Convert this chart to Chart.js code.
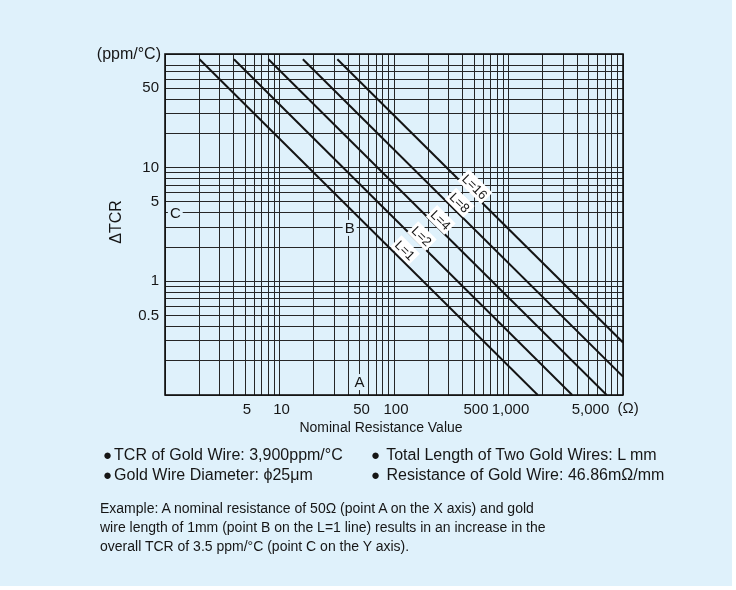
<!DOCTYPE html>
<html>
<head>
<meta charset="utf-8">
<script src="https://cdn.jsdelivr.net/npm/chart.js@4.4.1/dist/chart.umd.min.js"></script>
<style>
    html, body { margin: 0; padding: 0; background: #ffffff; }
    #panel { position: absolute; left: 0; top: 0; width: 732px; height: 586px; background: #dff1fb; }
    #chart { position: absolute; left: 0; top: 0; }
    .notes { position: absolute; font-family: "Liberation Sans", Arial, sans-serif; font-size: 14px; color: #161616; line-height: 19.2px; white-space: nowrap; }
    .bullets { font-size: 16px; line-height: 20px; }
    .dot { font-size: 15px; margin-right: 2px; }
</style>
</head>
<body>
<div id="panel"></div>
<canvas id="chart" width="736" height="590"></canvas>
<div class="notes bullets" style="left:103px; top:445px;"><span class="dot">●</span>TCR of Gold Wire: 3,900ppm/°C<br><span class="dot">●</span>Gold Wire Diameter: ϕ25μm</div>
<div class="notes bullets" style="left:371px; top:445px;"><span class="dot">●</span> Total Length of Two Gold Wires: L mm<br><span class="dot">●</span> Resistance of Gold Wire: 46.86mΩ/mm</div>
<div class="notes" style="left:100px; top:499px;">Example: A nominal resistance of 50Ω (point A on the X axis) and gold<br>wire length of 1mm (point B on the L=1 line) results in an increase in the<br>overall TCR of 3.5 ppm/°C (point C on the Y axis).</div>
<script>
(function () {
    "use strict";

    // Data
    const resistanceTicks = [5, 10, 50, 100, 500, 1000, 5000];
    const tcrTicks = [0.5, 1, 5, 10, 50];
    const lineNames = ["L=1", "L=2", "L=4", "L=8", "L=16"];
    const lineStartR = [2, 4, 8, 16, 32];
    const lineStartTcr = [90, 90, 90, 90, 90];
    const lineEndR = [1800, 3600, 7200, 10000, 10000];
    const lineEndTcr = [0.1, 0.1, 0.1, 0.145, 0.29];
    const labelR = [125, 175, 256, 375, 509];
    const labelTcr = [1.88, 2.5, 3.47, 4.93, 6.8];
    const markNames = ["A", "B", "C"];
    const markR = [50, 41, 1.23];
    const markTcr = [0.13, 2.95, 4.0];

    const FONT = '"Liberation Sans", Arial, sans-serif';
    const BG = "#dff1fb";

    // grid lines at 1..9 of every decade
    function decadeGrid(fromExp, toExp, skip) {
        const out = [];
        for (let e = fromExp; e < toExp; e++) {
            for (let m = 1; m <= 9; m++) {
                const v = Number((m * Math.pow(10, e)).toPrecision(3));
                if (!skip.includes(v)) out.push(v);
            }
        }
        out.push(Number(Math.pow(10, toExp).toPrecision(3)));
        return out;
    }
    const xGrid = decadeGrid(0, 4, []);
    const yGrid = decadeGrid(-1, 2, [90]);

    const datasets = lineNames.map((name, i) => ({
        label: name,
        data: [
            { x: lineStartR[i], y: lineStartTcr[i] },
            { x: lineEndR[i], y: lineEndTcr[i] },
        ],
        borderColor: "#141414",
        borderWidth: 2,
        pointRadius: 0,
        fill: false,
    }));

    function textBox(ctx, text, x, y, angle, fill) {
        ctx.save();
        ctx.translate(x, y);
        ctx.rotate(angle);
        const w = ctx.measureText(text).width;
        ctx.fillStyle = fill;
        ctx.fillRect(-w / 2 - 2, -8, w + 4, 16);
        ctx.fillStyle = "#161616";
        ctx.fillText(text, 0, 1);
        ctx.restore();
    }

    const decorations = {
        id: "decorations",
        afterDatasetsDraw(chart) {
            const ctx = chart.ctx;
            const xs = chart.scales.x;
            const ys = chart.scales.y;
            const area = chart.chartArea;

            ctx.save();
            ctx.textAlign = "center";
            ctx.textBaseline = "middle";

            // line labels
            ctx.font = "13px " + FONT;
            lineNames.forEach((name, i) => {
                const x0 = xs.getPixelForValue(lineStartR[i]);
                const y0 = ys.getPixelForValue(lineStartTcr[i]);
                const x1 = xs.getPixelForValue(lineEndR[i]);
                const y1 = ys.getPixelForValue(lineEndTcr[i]);
                const angle = Math.atan2(y1 - y0, x1 - x0);
                textBox(ctx, name, xs.getPixelForValue(labelR[i]),
                    ys.getPixelForValue(labelTcr[i]), angle, "#ffffff");
            });

            // example points
            ctx.font = "15px " + FONT;
            markNames.forEach((name, i) => {
                textBox(ctx, name, xs.getPixelForValue(markR[i]),
                    ys.getPixelForValue(markTcr[i]), 0, BG);
            });

            // frame
            ctx.strokeStyle = "#111";
            ctx.lineWidth = 1.6;
            ctx.strokeRect(area.left, area.top, area.right - area.left, area.bottom - area.top);

            // axis texts
            ctx.fillStyle = "#161616";
            ctx.font = "16px " + FONT;
            ctx.textAlign = "right";
            ctx.fillText("(ppm/°C)", area.left - 4, area.top + 1);
            ctx.font = "15px " + FONT;
            ctx.textAlign = "left";
            ctx.fillText("(Ω)", xs.getPixelForValue(5000) + 29, area.bottom + 14);
            ctx.font = "14px " + FONT;
            ctx.textAlign = "center";
            ctx.fillText("Nominal Resistance Value", 381, area.bottom + 33);
            ctx.font = "16px " + FONT;
            ctx.translate(117, 222);
            ctx.rotate(-Math.PI / 2);
            ctx.fillText("ΔTCR", 0, 0);
            ctx.restore();
        },
    };

    const ctx = document.getElementById("chart").getContext("2d");

    new Chart(ctx, {
        type: "line",
        data: { datasets: datasets },
        plugins: [decorations],
        options: {
            responsive: false,
            animation: false,
            layout: { padding: { left: 0, top: 54, right: 113, bottom: 0 } },
            plugins: {
                legend: { display: false },
                tooltip: { enabled: false },
            },
            scales: {
                x: {
                    type: "logarithmic",
                    min: 1,
                    max: 10000,
                    afterBuildTicks: (scale) => {
                        scale.ticks = xGrid.map((v) => ({ value: v }));
                    },
                    afterFit: (scale) => {
                        scale.height = 195;
                    },
                    grid: { color: "#262626", lineWidth: 1, drawTicks: false },
                    border: { display: false },
                    ticks: {
                        autoSkip: false,
                        maxRotation: 0,
                        padding: 6,
                        labelOffset: 2,
                        color: "#161616",
                        font: { family: FONT, size: 15 },
                        callback: (v) =>
                            resistanceTicks.includes(v) ? v.toLocaleString("en-US") : "",
                    },
                },
                y: {
                    type: "logarithmic",
                    min: 0.1,
                    max: 100,
                    afterBuildTicks: (scale) => {
                        scale.ticks = yGrid.map((v) => ({ value: v }));
                    },
                    afterFit: (scale) => {
                        scale.width = 165;
                    },
                    grid: { color: "#262626", lineWidth: 1, drawTicks: false },
                    border: { display: false },
                    ticks: {
                        autoSkip: false,
                        padding: 6,
                        color: "#161616",
                        font: { family: FONT, size: 15 },
                        callback: (v) => (tcrTicks.includes(v) ? String(v) : ""),
                    },
                },
            },
        },
    });
})();
</script>
</body>
</html>
